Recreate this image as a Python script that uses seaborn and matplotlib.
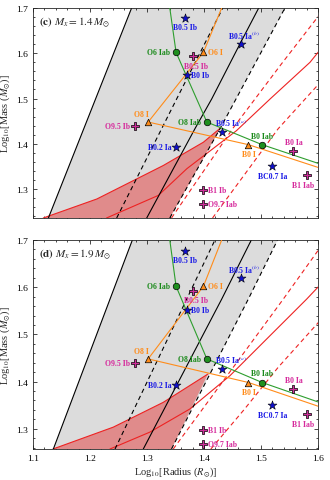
import matplotlib
matplotlib.use("Agg")
import matplotlib.pyplot as plt
import numpy as np
import seaborn as sns
from matplotlib.ticker import MultipleLocator

# ---- marker data (same stars in both panels) ----
star_x = [1.367, 1.370, 1.465, 1.351, 1.432, 1.520]
star_y = [1.677, 1.551, 1.620, 1.393, 1.426, 1.350]
star_lab = ["B0.5 Ib", "B0 Ib", r"B0.5 Ia$^{(b)}$", "B0.2 Ia", r"B0.5 Ia$^{(a)}$", "BC0.7 Ia"]
star_off = [(0, -6.5), (3, 0), (2, 6.5), (-3, 0), (-5, 7), (0, -7)]
star_ha = ["center", "left", "center", "right", "left", "center"]

cross_x = [1.381, 1.2795, 1.557, 1.581, 1.399, 1.399]
cross_y = [1.593, 1.439, 1.384, 1.331, 1.298, 1.267]
cross_lab = ["B0.5 Ib", "O9.5 Ib", "B0 Ia", "B1 Iab", "B1 Ib", "O9.7 Iab"]
cross_off = [(2, -7), (-4, 0), (0, 6.5), (-3, -7), (3.5, 0), (3.5, 0)]
cross_ha = ["center", "right", "center", "center", "left", "left"]

circ_x = [1.351, 1.405, 1.502]
circ_y = [1.602, 1.448, 1.398]
circ_lab = ["O6 Iab", "O8 Iab", "B0 Iab"]
circ_off = [(-4, 0), (-4, 0), (0, 6.5)]
circ_ha = ["right", "right", "center"]

tri_x = [1.399, 1.302, 1.478]
tri_y = [1.602, 1.448, 1.398]
tri_lab = ["O6 I", "O8 I", "B0 I"]
tri_off = [(3.5, 0), (-4.5, 5.5), (0, -6.5)]
tri_ha = ["left", "center", "center"]

# tracks through the spectral types
green_x = [1.340, 1.351, 1.405, 1.502, 1.602]
green_y = [1.700, 1.602, 1.448, 1.398, 1.356]
orange_x = [1.431, 1.399, 1.302, 1.478, 1.602]
orange_y = [1.700, 1.602, 1.448, 1.398, 1.347]

# ---- curves for panel (c) Mx = 1.4 ----
c_left_x = [1.127, 1.273]
c_left_y = [1.236, 1.700]
c_dash_x = [1.2468, 1.352, 1.433]
c_dash_y = [1.236, 1.499, 1.700]
c_mid_x = [1.2995, 1.384, 1.4135, 1.463, 1.496]
c_mid_y = [1.236, 1.433, 1.499, 1.6205, 1.700]
c_edge_x = [1.340, 1.428, 1.542]
c_edge_y = [1.236, 1.433, 1.700]
c_rup_x = [1.118, 1.212, 1.3286, 1.399, 1.429]
c_rup_y = [1.236, 1.278, 1.352, 1.4035, 1.435]
c_red_x = [1.229, 1.320, 1.370, 1.457, 1.516, 1.586, 1.602]
c_red_y = [1.236, 1.286, 1.345, 1.429, 1.499, 1.580, 1.605]
c_d1_x = [1.343, 1.450, 1.535, 1.602]
c_d1_y = [1.236, 1.433, 1.575, 1.684]
c_d2_x = [1.415, 1.470, 1.530, 1.602]
c_d2_y = [1.236, 1.330, 1.433, 1.533]

# ---- curves for panel (d) Mx = 1.9 ----
d_left_x = [1.1357, 1.2743]
d_left_y = [1.257, 1.700]
d_dash_x = [1.2439, 1.3696, 1.4192]
d_dash_y = [1.257, 1.5746, 1.700]
d_mid_x = [1.2935, 1.431, 1.483]
d_mid_y = [1.257, 1.5746, 1.700]
d_edge_x = [1.343, 1.4777, 1.529]
d_edge_y = [1.257, 1.5746, 1.700]
d_rup_x = [1.135, 1.2409, 1.3286, 1.407]
d_rup_y = [1.257, 1.3034, 1.356, 1.416]
d_red_x = [1.235, 1.305, 1.3754, 1.4456, 1.504, 1.580, 1.602]
d_red_y = [1.257, 1.2928, 1.342, 1.4125, 1.483, 1.5746, 1.6027]
d_d1_x = [1.346, 1.453, 1.539, 1.602]
d_d1_y = [1.257, 1.433, 1.5746, 1.681]
d_d2_x = [1.412, 1.470, 1.530, 1.602]
d_d2_y = [1.257, 1.340, 1.430, 1.527]

sns.set_style("ticks")
plt.rcParams["font.family"] = ["Liberation Serif", "DejaVu Serif"]
plt.rcParams["mathtext.fontset"] = "stix"

BLUE = "#1a1ae6"
MAG = "#d62a9c"
GREEN = "#1b8a1b"
ORANGE = "#ff8c1a"
RED = "#ee2222"


def line(ax, xs, ys, color, dashed=False, lw=0.8, z=2):
    ls = (0, (4, 3)) if dashed else "-"
    sns.lineplot(x=xs, y=ys, sort=False, estimator=None, ax=ax, color=color,
                 linewidth=lw, linestyle=ls, zorder=z)


def labels(ax, xs, ys, labs, offs, has, color):
    for x, y, t, o, h in zip(xs, ys, labs, offs, has):
        ax.annotate(t, (x, y), xytext=o, textcoords="offset points", ha=h, va="center",
                    fontsize=5.6, color=color, fontweight="bold", zorder=7)


def panel(ax, c, ylo, tag):
    left_x, left_y = c["left"]
    edge_x, edge_y = c["edge"]
    rup_x, rup_y = c["rup"]
    # grey band between the two limits
    ax.fill(list(left_x) + list(edge_x)[::-1], list(left_y) + list(edge_y)[::-1],
            color="#dcdcdc", zorder=0, lw=0)
    # red excluded region
    ax.fill(list(rup_x) + [edge_x[0]], list(rup_y) + [edge_y[0]],
            color="#e08b8b", zorder=1, lw=0)
    line(ax, rup_x, rup_y, RED)
    line(ax, *c["red"], RED)
    line(ax, *c["d1"], RED, dashed=True)
    line(ax, *c["d2"], RED, dashed=True)
    line(ax, left_x, left_y, "black")
    line(ax, *c["mid"], "black")
    line(ax, *c["dash"], "black", dashed=True)
    line(ax, edge_x, edge_y, "black", dashed=True)
    line(ax, green_x, green_y, "#2e9e2e", z=3)
    line(ax, orange_x, orange_y, ORANGE, z=3)

    sns.scatterplot(x=circ_x, y=circ_y, marker="o", s=22, color="#1f8f1f", edgecolor="black",
                    linewidth=0.5, ax=ax, zorder=5)
    sns.scatterplot(x=tri_x, y=tri_y, marker="^", s=22, color=ORANGE, edgecolor="black",
                    linewidth=0.5, ax=ax, zorder=5)
    sns.scatterplot(x=star_x, y=star_y, marker="*", s=45, color="#1010cc", edgecolor="black",
                    linewidth=0.4, ax=ax, zorder=5)
    sns.scatterplot(x=cross_x, y=cross_y, marker="P", s=30, color="#cc2e99", edgecolor="black",
                    linewidth=0.5, ax=ax, zorder=5)

    labels(ax, star_x, star_y, star_lab, star_off, star_ha, BLUE)
    labels(ax, cross_x, cross_y, cross_lab, cross_off, cross_ha, MAG)
    labels(ax, circ_x, circ_y, circ_lab, circ_off, circ_ha, GREEN)
    labels(ax, tri_x, tri_y, tri_lab, tri_off, tri_ha, ORANGE)

    ax.set_xlim(1.1, 1.6)
    ax.set_ylim(ylo, 1.7)
    ax.xaxis.set_major_locator(MultipleLocator(0.1))
    ax.xaxis.set_minor_locator(MultipleLocator(0.02))
    ax.yaxis.set_major_locator(MultipleLocator(0.1))
    ax.yaxis.set_minor_locator(MultipleLocator(0.02))
    ax.tick_params(which="both", direction="in", top=True, right=True, labelsize=6.8,
                   width=0.5, colors="black")
    ax.tick_params(which="major", length=3)
    ax.tick_params(which="minor", length=1.5)
    for s in ax.spines.values():
        s.set_linewidth(0.6)
    ax.set_ylabel(r"Log$_{10}$[Mass ($M_{\odot}$)]", fontsize=7.5, labelpad=3)
    ax.text(0.022, 0.935, tag, transform=ax.transAxes, fontsize=8, va="center", zorder=8)


fig = plt.figure(figsize=(3.3, 4.81), dpi=100)
ax1 = fig.add_axes([0.1, 0.5447, 0.8636, 0.4366])
ax2 = fig.add_axes([0.1, 0.0644, 0.8636, 0.4345])

panel(ax1, {"left": (c_left_x, c_left_y), "edge": (c_edge_x, c_edge_y), "rup": (c_rup_x, c_rup_y),
            "red": (c_red_x, c_red_y), "d1": (c_d1_x, c_d1_y), "d2": (c_d2_x, c_d2_y),
            "mid": (c_mid_x, c_mid_y), "dash": (c_dash_x, c_dash_y)},
      1.236, r"$\mathbf{(c)}$ $M_x = 1.4\,M_{\odot}$")
panel(ax2, {"left": (d_left_x, d_left_y), "edge": (d_edge_x, d_edge_y), "rup": (d_rup_x, d_rup_y),
            "red": (d_red_x, d_red_y), "d1": (d_d1_x, d_d1_y), "d2": (d_d2_x, d_d2_y),
            "mid": (d_mid_x, d_mid_y), "dash": (d_dash_x, d_dash_y)},
      1.257, r"$\mathbf{(d)}$ $M_x = 1.9\,M_{\odot}$")

ax1.set_xticklabels([])
ax1.set_xlabel("")
ax2.set_xlabel(r"Log$_{10}$[Radius ($R_{\odot}$)]", fontsize=7.5, labelpad=2)

fig.savefig("out.png", dpi=100)
